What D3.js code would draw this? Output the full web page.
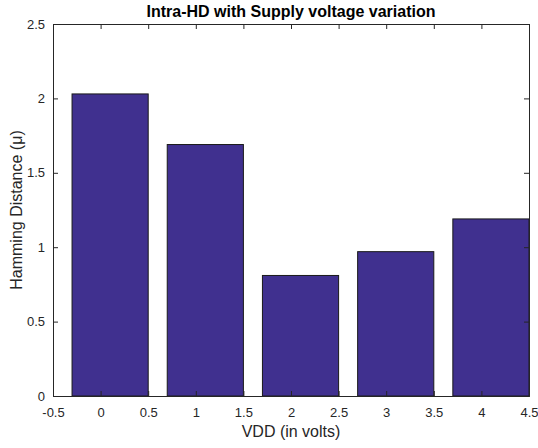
<!DOCTYPE html>
<html>
<head>
<meta charset="utf-8">
<script src="https://cdn.jsdelivr.net/npm/d3@7"></script>
<style>
	body { margin: 0; background: #fff; }
	text { font-family: "Liberation Sans", Arial, sans-serif; fill: #262626; }
</style>
</head>
<body>
<div id="chart"></div>
<script>
// bar positions (VDD) and heights
var vdd = [0, 1, 2, 3, 4];
var hd = [2.03, 1.69, 0.81, 0.97, 1.19];
var xTicks = [-0.5, 0, 0.5, 1, 1.5, 2, 2.5, 3, 3.5, 4, 4.5];
var yTicks = [0, 0.5, 1, 1.5, 2, 2.5];

var W = 538, H = 448;
var m = {top: 24, right: 9, bottom: 52, left: 53};

var svg = d3.select("#chart").append("svg")
	.attr("width", W)
	.attr("height", H);

var x = d3.scaleLinear().domain([-0.5, 4.5]).range([m.left, W - m.right]);
var y = d3.scaleLinear().domain([0, 2.5]).range([H - m.bottom, m.top]);

// plain hyphen for negatives, like the original
var fmt = function(d) { return String(d); };

// bars: matlab drew them shifted, from v-0.3 to v+0.5
svg.selectAll("rect.bar")
	.data(vdd)
	.enter().append("rect")
	.attr("class", "bar")
	.attr("x", function(d) { return x(d - 0.3); })
	.attr("width", function(d) { return x(d + 0.5) - x(d - 0.3); })
	.attr("y", function(d, i) { return y(hd[i]); })
	.attr("height", function(d, i) { return y(0) - y(hd[i]); })
	.attr("fill", "#40308f")
	.attr("stroke", "#1a1a1a")
	.attr("stroke-width", 1);

// axes, ticks pointing inward like matlab
var tk = 5;
svg.append("g")
	.attr("transform", "translate(0," + y(0) + ")")
	.call(d3.axisBottom(x).tickValues(xTicks).tickSize(-tk).tickPadding(12).tickFormat(fmt))
	.call(function(g) { g.selectAll("text").style("font-size", "13px"); });

svg.append("g")
	.attr("transform", "translate(" + x(-0.5) + ",0)")
	.call(d3.axisLeft(y).tickValues(yTicks).tickSize(-tk).tickPadding(8).tickFormat(fmt))
	.call(function(g) { g.selectAll("text").style("font-size", "13px"); });

svg.append("g")
	.attr("transform", "translate(0," + y(2.5) + ")")
	.call(d3.axisTop(x).tickValues(xTicks).tickSize(-tk).tickFormat(""));

svg.append("g")
	.attr("transform", "translate(" + x(4.5) + ",0)")
	.call(d3.axisRight(y).tickValues(yTicks).tickSize(-tk).tickFormat(""));

svg.selectAll(".domain").attr("stroke", "#262626");
svg.selectAll(".tick line").attr("stroke", "#262626");

// labels
svg.append("text")
	.attr("x", (x(-0.5) + x(4.5)) / 2)
	.attr("y", 17)
	.attr("text-anchor", "middle")
	.style("font-size", "16px")
	.style("font-weight", "bold")
	.style("fill", "#000")
	.text("Intra-HD with Supply voltage variation");

svg.append("text")
	.attr("x", (x(-0.5) + x(4.5)) / 2)
	.attr("y", 437)
	.attr("text-anchor", "middle")
	.style("font-size", "16px")
	.text("VDD (in volts)");

svg.append("text")
	.attr("transform", "translate(22," + (y(1.25)) + ") rotate(-90)")
	.attr("text-anchor", "middle")
	.style("font-size", "16px")
	.text("Hamming Distance (\u03bc)");
</script>
</body>
</html>
